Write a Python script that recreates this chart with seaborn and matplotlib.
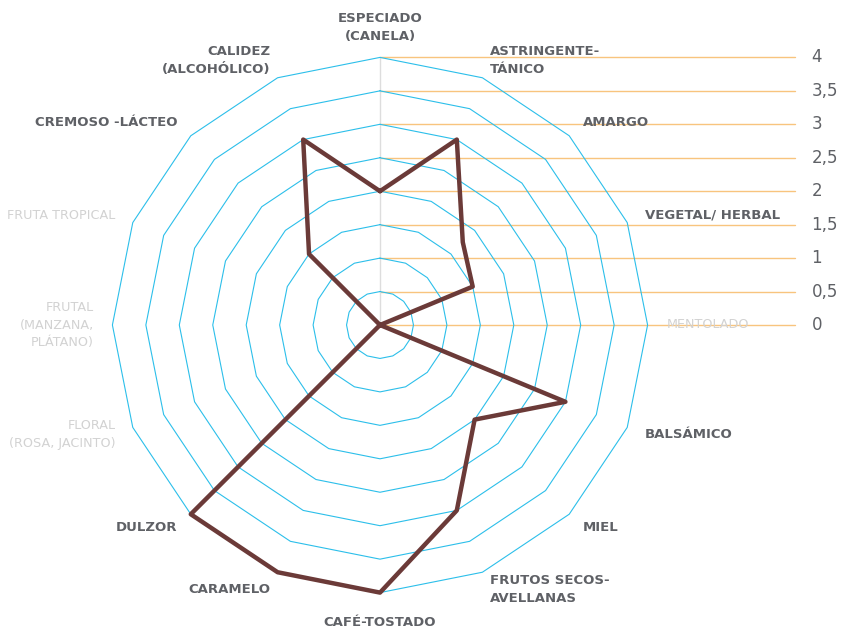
import numpy as np
import pandas as pd
import matplotlib
matplotlib.use('Agg')
import matplotlib.pyplot as plt
import seaborn as sns

categories = ['ESPECIADO\n(CANELA)', 'ASTRINGENTE-\nTÁNICO', 'AMARGO', 'VEGETAL/ HERBAL',
              'MENTOLADO', 'BALSÁMICO', 'MIEL', 'FRUTOS SECOS-\nAVELLANAS', 'CAFÉ-TOSTADO',
              'CARAMELO', 'DULZOR', 'FLORAL\n(ROSA, JACINTO)', 'FRUTAL\n(MANZANA,\nPLÁTANO)',
              'FRUTA TROPICAL', 'CREMOSO -LÁCTEO', 'CALIDEZ\n(ALCOHÓLICO)']
values = [2, 3, 1.75, 1.5, 0, 3, 2, 3, 4, 4, 4, 0, 0, 0, 1.5, 3]
levels = [0, 0.5, 1, 1.5, 2, 2.5, 3, 3.5, 4]
level_labels = ['0', '0,5', '1', '1,5', '2', '2,5', '3', '3,5', '4']

LINE_COLOR = '#6b3a38'
GRID_COLOR = '#2cbfea'
ORANGE = '#f8c47e'
TEXT_DARK = '#5f6166'
TEXT_LIGHT = '#d2d2d2'

sns.set_style('white')
plt.rcParams['font.family'] = ['DejaVu Sans']

n = len(categories)
theta = np.arange(n) * 2 * np.pi / n

fig = plt.figure(figsize=(8.53, 6.3), dpi=100)
ax = fig.add_axes([0, 0, 1, 1])
unit = 66.9
cx, cy = 380, 325
ax.set_xlim(-cx / unit, (853 - cx) / unit)
ax.set_ylim(-(630 - cy) / unit, cy / unit)
ax.axis('off')

# orange reference lines for the scale
for lev, lab in zip(levels, level_labels):
    ax.plot([0, 6.2], [lev, lev], color=ORANGE, lw=1.0, zorder=1)
    ax.text(6.45, lev, lab, ha='left', va='center', fontsize=12, color=TEXT_DARK)

# vertical spoke
ax.plot([0, 0], [0, 4], color='#dddddd', lw=1.0, zorder=1)

# polygon rings
th_closed = np.append(theta, theta[0])
for lev in levels[1:]:
    ax.plot(lev * np.sin(th_closed), lev * np.cos(th_closed), color=GRID_COLOR, lw=0.8, zorder=2)

# data polygon
vals = np.append(values, values[0])
df = pd.DataFrame({'x': vals * np.sin(th_closed), 'y': vals * np.cos(th_closed)})
sns.lineplot(data=df, x='x', y='y', sort=False, estimator=None, color=LINE_COLOR,
             lw=3.2, ax=ax, zorder=3)
ax.set_xlabel('')
ax.set_ylabel('')

# category labels
for cat, val, t in zip(categories, values, theta):
    s, c = np.sin(t), np.cos(t)
    if abs(s) < 1e-6:
        r = 4.45
        ha = 'center'
    else:
        r = 4.28
        ha = 'left' if s > 0 else 'right'
    if val == 0:
        color, weight, size = TEXT_LIGHT, 'normal', 9.2
    else:
        color, weight, size = TEXT_DARK, 'semibold', 9.5
    ax.text(r * s, r * c, cat, ha=ha, va='center', fontsize=size, color=color,
            fontweight=weight, linespacing=1.45,
            multialignment='center' if ha == 'center' else ha)

fig.savefig('out.png', dpi=100)
